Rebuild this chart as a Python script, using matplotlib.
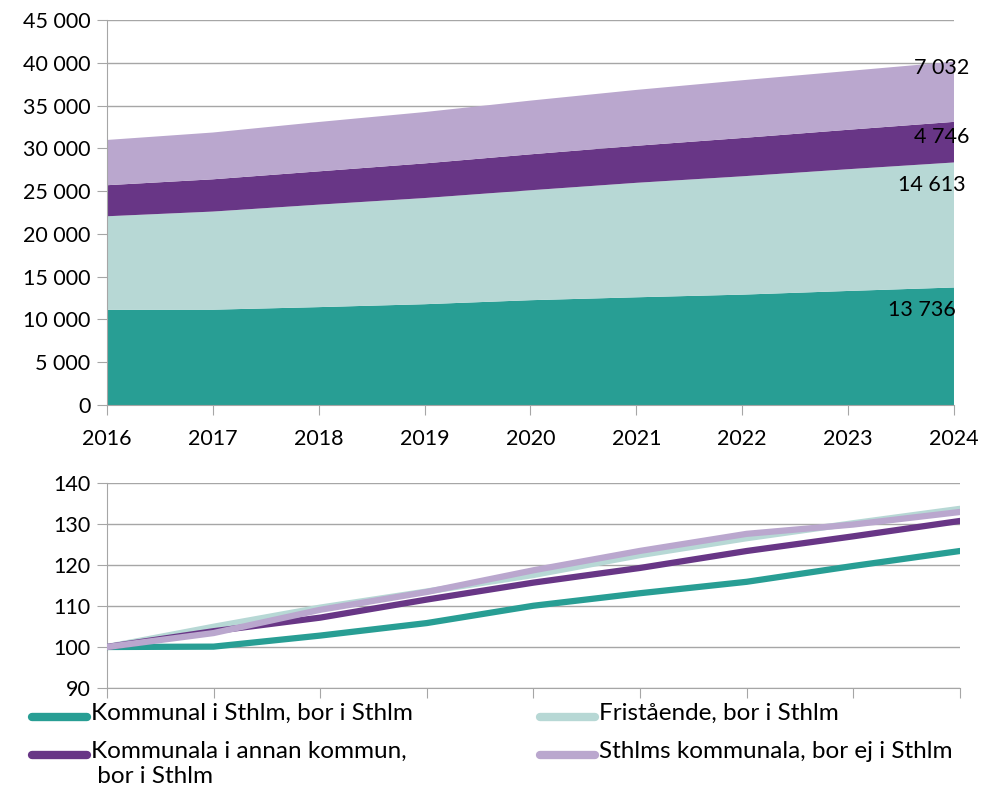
import matplotlib.pyplot as plt
from matplotlib.lines import Line2D
from matplotlib.ticker import FuncFormatter
import numpy as np

plt.rcParams['font.family'] = ['Lato', 'DejaVu Sans']

years = [2016, 2017, 2018, 2019, 2020, 2021, 2022, 2023, 2024]

# antal elever per grupp
kommunal_sthlm = [11130, 11140, 11440, 11780, 12250, 12590, 12900, 13330, 13736]
fristaende = [10930, 11470, 11980, 12410, 12850, 13380, 13830, 14230, 14613]
kommunal_annan = [3630, 3770, 3890, 4050, 4200, 4330, 4480, 4610, 4746]
sthlm_ej_bor = [5290, 5470, 5770, 6000, 6280, 6530, 6750, 6870, 7032]

names = ["Kommunal i Sthlm, bor i Sthlm",
         "Fristående, bor i Sthlm",
         "Kommunala i annan kommun,\n bor i Sthlm",
         "Sthlms kommunala, bor ej i Sthlm"]
colors = ['#289E94', '#B7D8D5', '#683686', '#BAA7CE']
end_labels = ["13 736", "14 613", "4 746", "7 032"]

series = [kommunal_sthlm, fristaende, kommunal_annan, sthlm_ej_bor]
grid_c = '#A6A6A6'
fs = 15.5
fs_leg = 17.5

fig = plt.figure(figsize=(9.84, 7.91), dpi=100)

# --- top: stacked area ---
ax1 = fig.add_axes([0.1087, 0.488, 0.8608, 0.4867])
ax1.stackplot(years, *series, colors=colors, zorder=2)
ax1.set_xlim(2016, 2024)
ax1.set_ylim(0, 45000)
ax1.set_yticks(np.arange(0, 45001, 5000))
ax1.set_xticks(years)
ax1.yaxis.set_major_formatter(FuncFormatter(lambda v, p: f"{int(v):,}".replace(",", " ")))
ax1.grid(axis='y', color=grid_c, lw=1, zorder=0)
for s in ['top', 'right']:
    ax1.spines[s].set_visible(False)
for s in ['left', 'bottom']:
    ax1.spines[s].set_color(grid_c)
ax1.tick_params(axis='both', color=grid_c, length=7, labelsize=fs)
ax1.tick_params(axis='x', pad=10)
ax1.tick_params(axis='y', pad=5)

# end value labels
label_y = [11100, 25700, 31300, 39400]
label_x = [2023.70, 2023.79, 2023.88, 2023.88]
for lx, ly, t in zip(label_x, label_y, end_labels):
    ax1.text(lx, ly, t, ha='center', va='center', fontsize=fs, color='black', clip_on=False, zorder=5)

# --- bottom: index 2016 = 100 ---
ax2 = fig.add_axes([0.1087, 0.1302, 0.8669, 0.2592])
for s, c in zip(series, colors):
    idx = np.array(s) / s[0] * 100
    ax2.plot(years, idx, color=c, lw=4.5, solid_capstyle='round', zorder=3)
ax2.set_xlim(2016, 2024)
ax2.set_ylim(90, 140)
ax2.set_yticks(range(90, 141, 10))
ax2.set_xticks(years)
ax2.set_xticklabels([])
ax2.grid(axis='y', color=grid_c, lw=1, zorder=0)
for s in ['top', 'right']:
    ax2.spines[s].set_visible(False)
for s in ['left', 'bottom']:
    ax2.spines[s].set_color(grid_c)
ax2.tick_params(axis='both', color=grid_c, length=7, labelsize=fs)
ax2.tick_params(axis='y', pad=5)

# legend, drawn by hand in two columns
W, H = 984, 791
leg_pos = [(32, 717), (540, 717), (32, 755), (540, 755)]
for (px, py), name, c in zip(leg_pos, names, colors):
    fig.add_artist(Line2D([px / W, (px + 55) / W], [1 - py / H, 1 - py / H],
                          color=c, lw=6, solid_capstyle='round'))
    fig.text((px + 59) / W, 1 - (py - 14) / H, name, fontsize=fs_leg, va='top', ha='left',
             linespacing=1.25)

fig.savefig('out.png', dpi=100)
